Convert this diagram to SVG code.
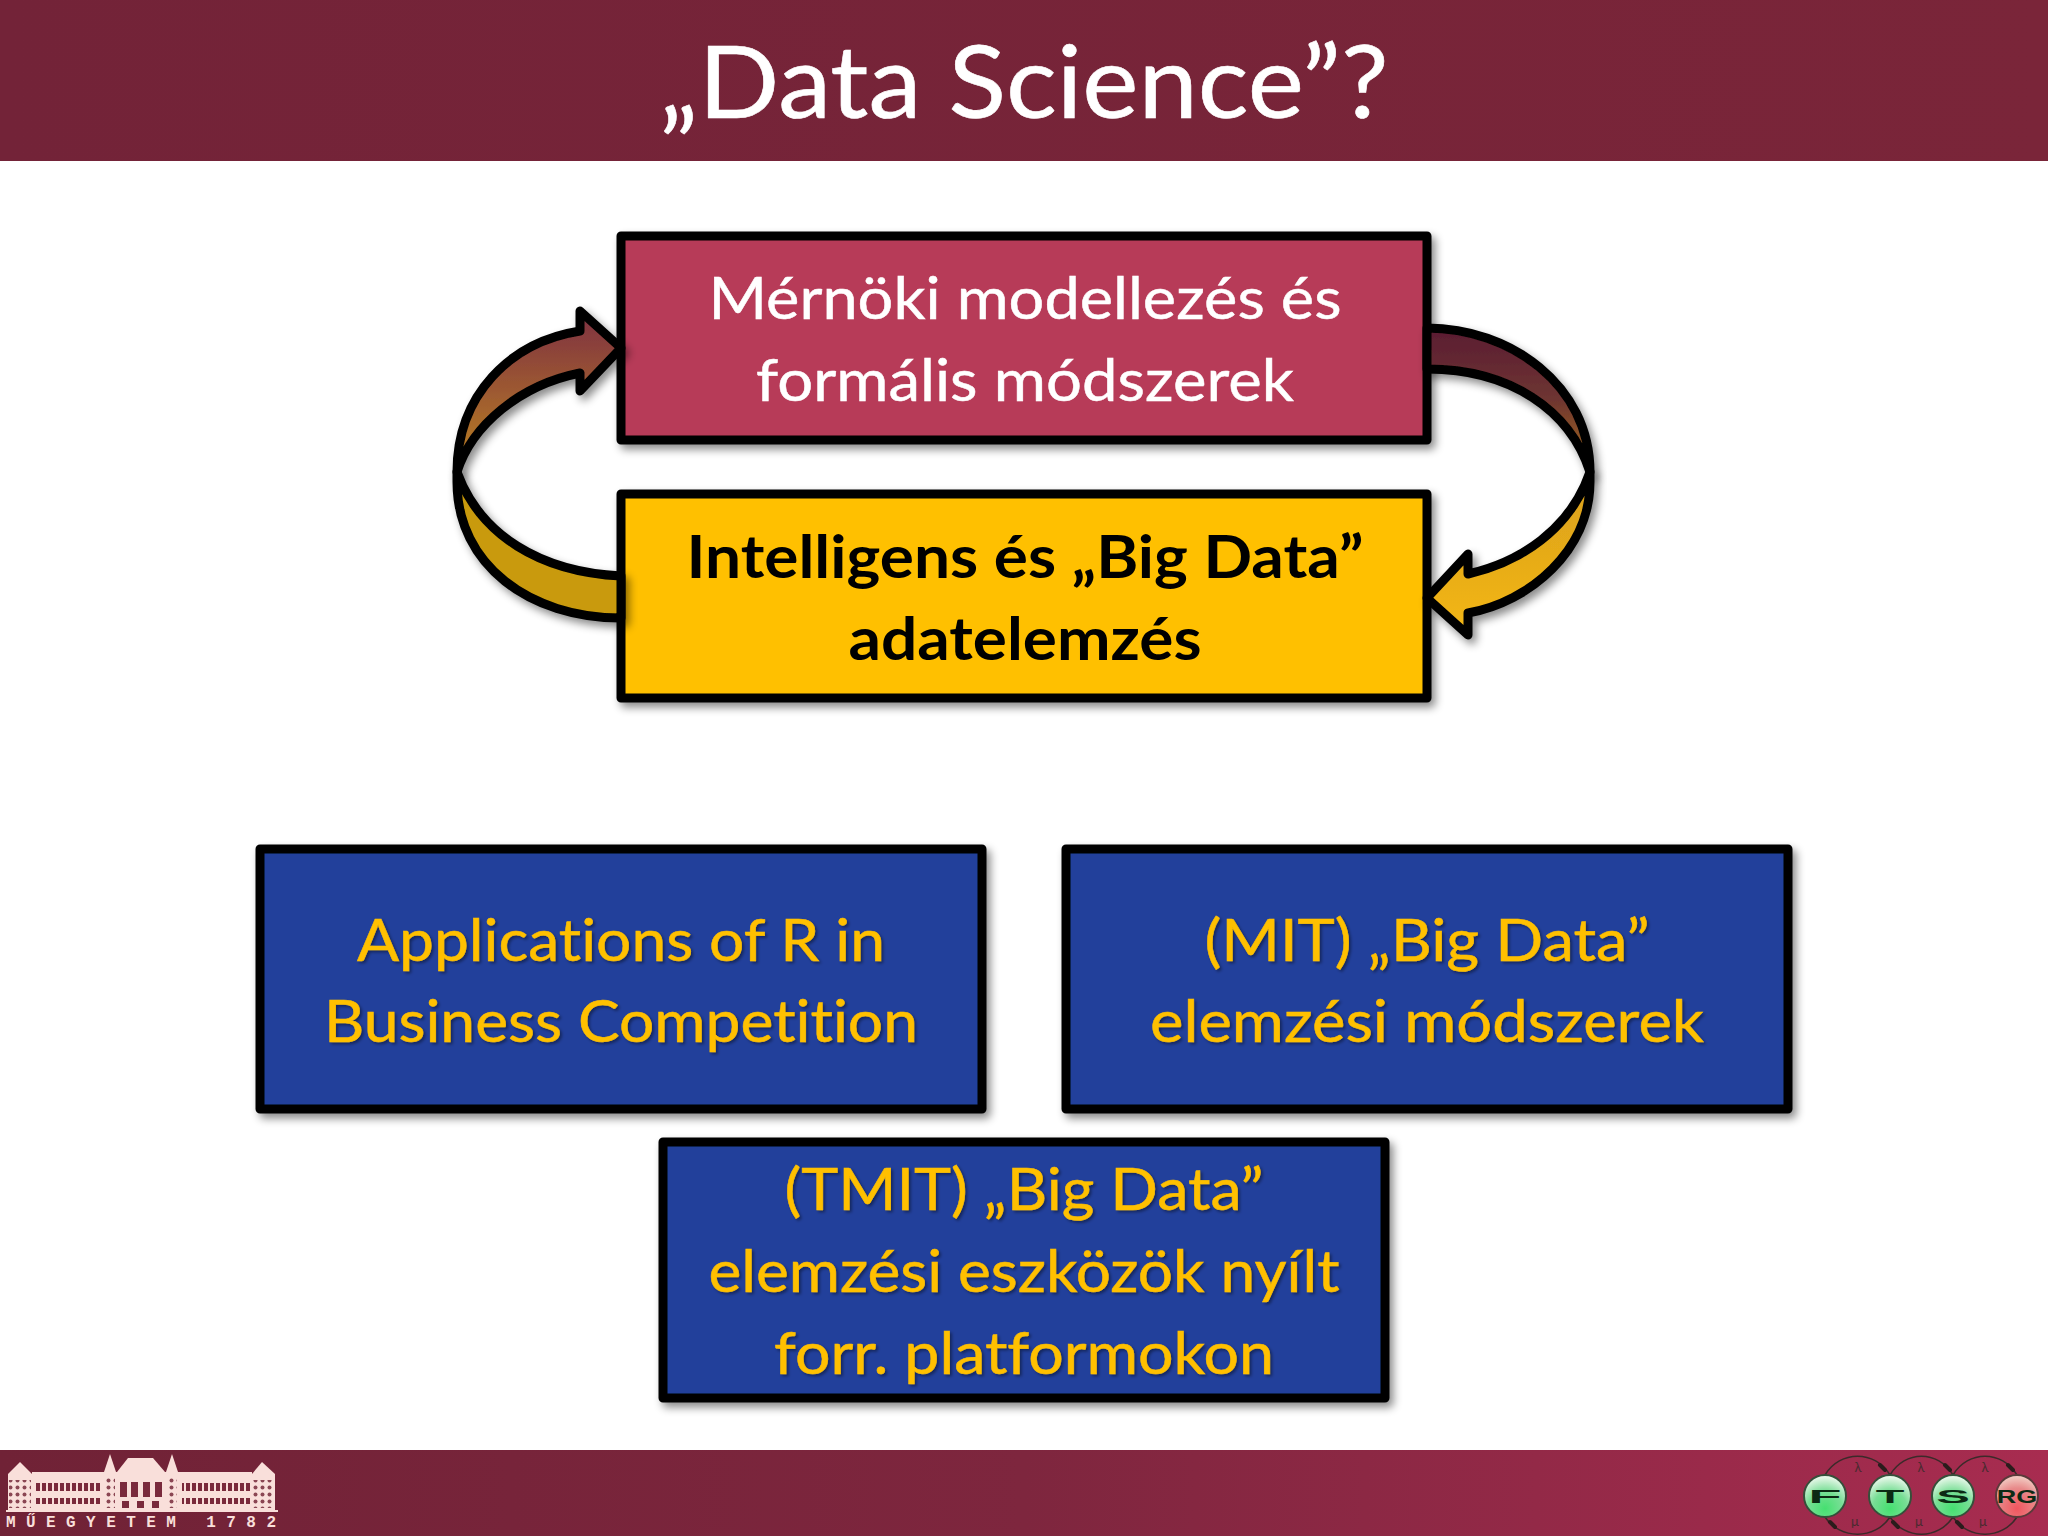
<svg xmlns="http://www.w3.org/2000/svg" width="2048" height="1536" viewBox="0 0 2048 1536">
<defs>
<linearGradient id="hdr" x1="0" x2="1" y1="0" y2="0"><stop offset="0" stop-color="#732338"/><stop offset="1" stop-color="#7a2539"/></linearGradient>
<linearGradient id="ftr" x1="0" x2="1" y1="0" y2="0"><stop offset="0" stop-color="#702236"/><stop offset="0.5" stop-color="#7e263e"/><stop offset="1" stop-color="#a82c50"/></linearGradient>
<linearGradient id="lu" x1="0" x2="0" y1="0" y2="1"><stop offset="0" stop-color="#7d2f42"/><stop offset="1" stop-color="#bd8420"/></linearGradient>
<linearGradient id="ru" x1="0" x2="0" y1="0" y2="1"><stop offset="0" stop-color="#5a1c30"/><stop offset="0.5" stop-color="#6e3530"/><stop offset="1" stop-color="#a9701e"/></linearGradient>
<linearGradient id="rl" x1="0" x2="0" y1="0" y2="1"><stop offset="0" stop-color="#d89f1c"/><stop offset="1" stop-color="#f4b716"/></linearGradient>
<radialGradient id="gr" cx="0.5" cy="0.8" r="0.75"><stop offset="0" stop-color="#45e070"/><stop offset="0.55" stop-color="#78de95"/><stop offset="1" stop-color="#e6f7e8"/></radialGradient>
<radialGradient id="rd" cx="0.5" cy="0.8" r="0.75"><stop offset="0" stop-color="#f0565f"/><stop offset="0.65" stop-color="#e88a8a"/><stop offset="1" stop-color="#f2c8c0"/></radialGradient>
<filter id="sh" x="-10%" y="-10%" width="120%" height="125%"><feDropShadow dx="4" dy="5" stdDeviation="4" flood-color="#000" flood-opacity="0.45"/></filter>
<filter id="ts" x="-5%" y="-15%" width="110%" height="135%"><feDropShadow dx="2" dy="2" stdDeviation="1.5" flood-color="#000" flood-opacity="0.4"/></filter>
<pattern id="win" width="6" height="8" patternUnits="userSpaceOnUse" x="0" y="1483"><rect width="6" height="8" fill="#7a2a3c"/><rect x="4" width="2" height="8" fill="#f9dfda"/></pattern>
<pattern id="win2" width="7" height="7" patternUnits="userSpaceOnUse"><rect width="7" height="7" fill="#f9dfda"/><circle cx="3.5" cy="3.5" r="2" fill="#8b4653"/></pattern>
</defs>
<style>
.box{stroke:#000;stroke-width:9;stroke-linejoin:round}
.ar{stroke:#000;stroke-width:9;stroke-linejoin:round;filter:url(#sh)}
text{font-family:"Lato","Liberation Sans",sans-serif;text-anchor:middle;font-variant-ligatures:none}
.w{fill:#fff;stroke:#fff;stroke-width:.5}.k{fill:#000;font-weight:700}.g{fill:#ffc000;stroke:#ffc000;stroke-width:.5;filter:url(#ts)}
.lg{fill:#f9dfda}
.dk{fill:#7a2a3c}
.arc{fill:none;stroke:#3c2a2a;stroke-width:1.5}
.hd{fill:none;stroke:#2a1c1c;stroke-width:4;stroke-linecap:round}
.gk{font-size:13px;fill:#4a2a30}
.ltr{font-family:"Liberation Sans",sans-serif;font-weight:700;fill:#0c2a14;font-size:18px}
</style>
<rect width="2048" height="1536" fill="#fff"/>
<g id="header"><rect width="2048" height="161" fill="url(#hdr)"/>
<text x="1024" y="118" font-size="100" fill="#fff" textLength="729" lengthAdjust="spacingAndGlyphs" stroke="#fff" stroke-width=".6">„Data Science”?</text></g>
<g id="footer"><rect y="1450" width="2048" height="86" fill="url(#ftr)"/></g>
<g id="node-red"><rect class="box" x="621" y="236" width="806" height="204" fill="#b73a58" filter="url(#sh)"/>
<text class="w" x="1025" y="319" font-size="59" textLength="633" lengthAdjust="spacingAndGlyphs">Mérnöki modellezés és</text>
<text class="w" x="1025" y="401" font-size="59" textLength="538" lengthAdjust="spacingAndGlyphs">formális módszerek</text></g>
<g id="node-yellow"><rect class="box" x="621" y="494" width="806" height="204" fill="#ffc000" filter="url(#sh)"/>
<text class="k" x="1025" y="578" font-size="59" textLength="677" lengthAdjust="spacingAndGlyphs">Intelligens és „Big Data”</text>
<text class="k" x="1025" y="660" font-size="59" textLength="353" lengthAdjust="spacingAndGlyphs">adatelemzés</text></g>
<g id="node-r"><rect class="box" x="260" y="849" width="722" height="260" fill="#21409b" filter="url(#sh)"/>
<text class="g" x="621" y="961" font-size="59" textLength="528" lengthAdjust="spacingAndGlyphs">Applications of R in</text>
<text class="g" x="621" y="1042" font-size="59" textLength="594" lengthAdjust="spacingAndGlyphs">Business Competition</text></g>
<g id="node-mit"><rect class="box" x="1066" y="849" width="722" height="260" fill="#21409b" filter="url(#sh)"/>
<text class="g" x="1427" y="961" font-size="59" textLength="445" lengthAdjust="spacingAndGlyphs">(MIT) „Big Data”</text>
<text class="g" x="1427" y="1042" font-size="59" textLength="554" lengthAdjust="spacingAndGlyphs">elemzési módszerek</text></g>
<g id="node-tmit"><rect class="box" x="663" y="1142" width="722" height="256" fill="#21409b" filter="url(#sh)"/>
<text class="g" x="1024" y="1210" font-size="59" textLength="479" lengthAdjust="spacingAndGlyphs">(TMIT) „Big Data”</text>
<text class="g" x="1024" y="1292" font-size="59" textLength="631" lengthAdjust="spacingAndGlyphs">elemzési eszközök nyílt</text>
<text class="g" x="1024" y="1374" font-size="59" textLength="500" lengthAdjust="spacingAndGlyphs">forr. platformokon</text></g>
<g id="connectors">
<path id="arrow-left-up" class="ar" fill="url(#lu)" d="M621,348 L580,311 V331 C510,342 457,395 457,472 C472,425 520,385 580,373 V391 Z"/>
<path id="arrow-left-down" class="ar" fill="#c99a0a" d="M457,472 V482 C457,565 530,618 621,618 V576 C540,572 480,535 457,472 Z"/>
<path id="arrow-right-up" class="ar" fill="url(#ru)" d="M1427,328 C1510,328 1590,385 1590,472 C1570,410 1510,369 1427,369 Z"/>
<path id="arrow-right-down" class="ar" fill="url(#rl)" d="M1590,472 V482 C1590,550 1530,602 1468,613 V635 L1427,598 L1468,554 V574 C1520,562 1570,530 1590,472 Z"/>
</g>
<g id="logo-bme">
<path class="lg" d="M8,1474 L20,1462 L32,1474 V1510 H8 Z"/>
<path class="lg" d="M252,1474 L262,1462 L275,1474 V1510 H252 Z"/>
<rect class="lg" x="32" y="1472" width="220" height="38"/>
<rect x="34" y="1483" width="68" height="8" fill="url(#win)"/>
<rect x="34" y="1498" width="68" height="6" fill="url(#win)"/>
<rect x="182" y="1483" width="68" height="8" fill="url(#win)"/>
<rect x="182" y="1498" width="68" height="6" fill="url(#win)"/>
<rect x="9" y="1480" width="22" height="28" fill="url(#win2)"/>
<rect x="253" y="1480" width="21" height="28" fill="url(#win2)"/>
<path class="lg" d="M104,1472 L110,1454 L116,1472 V1510 H104 Z"/>
<path class="lg" d="M166,1472 L172,1454 L178,1472 V1510 H166 Z"/>
<path class="lg" d="M117,1472 L128,1458 H153 L165,1472 Z"/>
<rect x="105" y="1476" width="10" height="32" fill="url(#win2)"/><rect x="167" y="1476" width="10" height="32" fill="url(#win2)"/>
<rect class="dk" x="120" y="1482" width="7" height="15"/><rect class="dk" x="131" y="1482" width="7" height="15"/><rect class="dk" x="143" y="1482" width="7" height="15"/><rect class="dk" x="155" y="1482" width="7" height="15"/>
<rect class="dk" x="122" y="1501" width="7" height="7"/><rect class="dk" x="137" y="1501" width="7" height="7"/><rect class="dk" x="152" y="1501" width="7" height="7"/>
<rect class="lg" x="6" y="1510" width="272" height="2"/>
<text x="141" y="1527" font-size="16" class="lg" style="font-family:'Liberation Mono',monospace;font-weight:700" textLength="270" lengthAdjust="spacing">MŰEGYETEM 1782</text>
</g>
<g id="logo-ftsrg">
<path class="arc" d="M1825,1475 C1840,1450 1875,1450 1890,1475 C1905,1450 1938,1450 1953,1475 C1968,1450 2002,1450 2017,1475"/>
<path class="arc" d="M1825,1517 C1840,1540 1875,1540 1890,1517 C1905,1540 1938,1540 1953,1517 C1968,1540 2002,1540 2017,1517"/>
<path class="hd" d="M1880,1465 L1885,1470 M1945,1465 L1950,1470 M2008,1465 L2013,1470 M1830,1522 L1835,1527 M1893,1522 L1898,1527 M1957,1522 L1962,1527"/>
<text class="gk" x="1858" y="1472">λ</text><text class="gk" x="1921" y="1472">λ</text><text class="gk" x="1985" y="1472">λ</text>
<text class="gk" x="1855" y="1526">μ</text><text class="gk" x="1919" y="1526">μ</text><text class="gk" x="1983" y="1526">μ</text>
<circle cx="1825" cy="1496" r="21" fill="url(#gr)" stroke="#35503a" stroke-width="2"/>
<circle cx="1890" cy="1496" r="21" fill="url(#gr)" stroke="#35503a" stroke-width="2"/>
<circle cx="1953" cy="1496" r="21" fill="url(#gr)" stroke="#35503a" stroke-width="2"/>
<circle cx="2017" cy="1496" r="21" fill="url(#rd)" stroke="#5a3a3a" stroke-width="2"/>
<text class="ltr" transform="translate(1825,1503) scale(3,1)">F</text>
<text class="ltr" transform="translate(1890,1503) scale(2.6,1)">T</text>
<text class="ltr" transform="translate(1953,1503) scale(2.8,1)">S</text>
<text class="ltr" transform="translate(2017,1503) scale(1.5,1)">RG</text>
</g>
</svg>
